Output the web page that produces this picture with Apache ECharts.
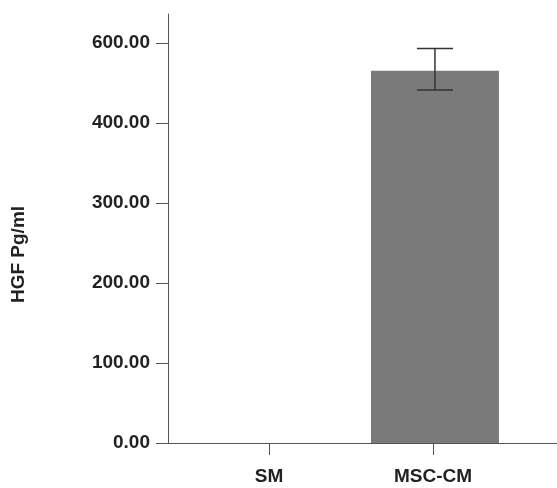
<!DOCTYPE html>
<html>
<head>
<meta charset="utf-8">
<script src="https://cdn.jsdelivr.net/npm/echarts@6/dist/echarts.min.js"></script>
<style>html,body{margin:0;padding:0;background:#fff}#c{width:557px;height:488px}</style>
</head>
<body>
<div id="c"></div>
<script>
var categories = ['SM', 'MSC-CM'];
var means = [0, 465];
var errLow = [0, 441];
var errHigh = [0, 493];
var yTickValues = [0, 100, 200, 300, 400, 500];
var yTickLabels = ['0.00', '100.00', '200.00', '300.00', '400.00', '600.00'];

var chart = echarts.init(document.getElementById('c'));
var txt = {color: '#222', fontFamily: 'Liberation Sans, Arial, sans-serif', fontWeight: 'bold', fontSize: 19};
function axisLine() { return {show: true, onZero: false, lineStyle: {color: '#555', width: 1}}; }

var option = {
  animation: false,
  grid: {left: 168, right: 0, top: 14, bottom: 45},
  xAxis: {
    type: 'value',
    min: -101 / 164,
    max: 1 + 124 / 164,
    splitLine: {show: false},
    axisLine: axisLine(),
    axisTick: {show: true, length: 12, inside: false, customValues: [0, 1], lineStyle: {color: '#555'}},
    axisLabel: Object.assign({margin: 24, customValues: [0, 1], formatter: function (v) { return categories[Math.round(v)] || ''; }}, txt)
  },
  yAxis: {
    type: 'value',
    min: 0,
    max: 536,
    name: 'HGF Pg/ml',
    nameLocation: 'middle',
    nameGap: 140,
    nameRotate: 90,
    nameTextStyle: Object.assign({padding: [0, 52, 0, 0]}, txt),
    splitLine: {show: false},
    axisLine: axisLine(),
    axisTick: {show: true, length: 12, customValues: yTickValues, lineStyle: {color: '#555'}},
    axisLabel: Object.assign({margin: 18, customValues: yTickValues, formatter: function (v) {
      var i = yTickValues.indexOf(Math.round(v)); return i >= 0 ? yTickLabels[i] : '';
    }}, txt)
  },
  series: [
    {
      type: 'bar',
      barWidth: 128,
      itemStyle: {color: '#7a7a7a'},
      data: means.map(function (m, i) { return [i + 0.012, m]; })
    },
    {
      type: 'custom',
      data: means.map(function (m, i) { return [i + 0.012, errLow[i], errHigh[i]]; }),
      renderItem: function (params, api) {
        if (api.value(2) - api.value(1) <= 0) return null;
        var lo = api.coord([api.value(0), api.value(1)]);
        var hi = api.coord([api.value(0), api.value(2)]);
        var x = lo[0], hw = 18;
        var st = {stroke: '#333', lineWidth: 1.5};
        return {type: 'group', children: [
          {type: 'line', shape: {x1: x, y1: lo[1], x2: x, y2: hi[1]}, style: st},
          {type: 'line', shape: {x1: x - hw, y1: lo[1], x2: x + hw, y2: lo[1]}, style: st},
          {type: 'line', shape: {x1: x - hw, y1: hi[1], x2: x + hw, y2: hi[1]}, style: st}
        ]};
      },
      z: 5
    }
  ]
};
chart.setOption(option);
</script>
</body>
</html>
